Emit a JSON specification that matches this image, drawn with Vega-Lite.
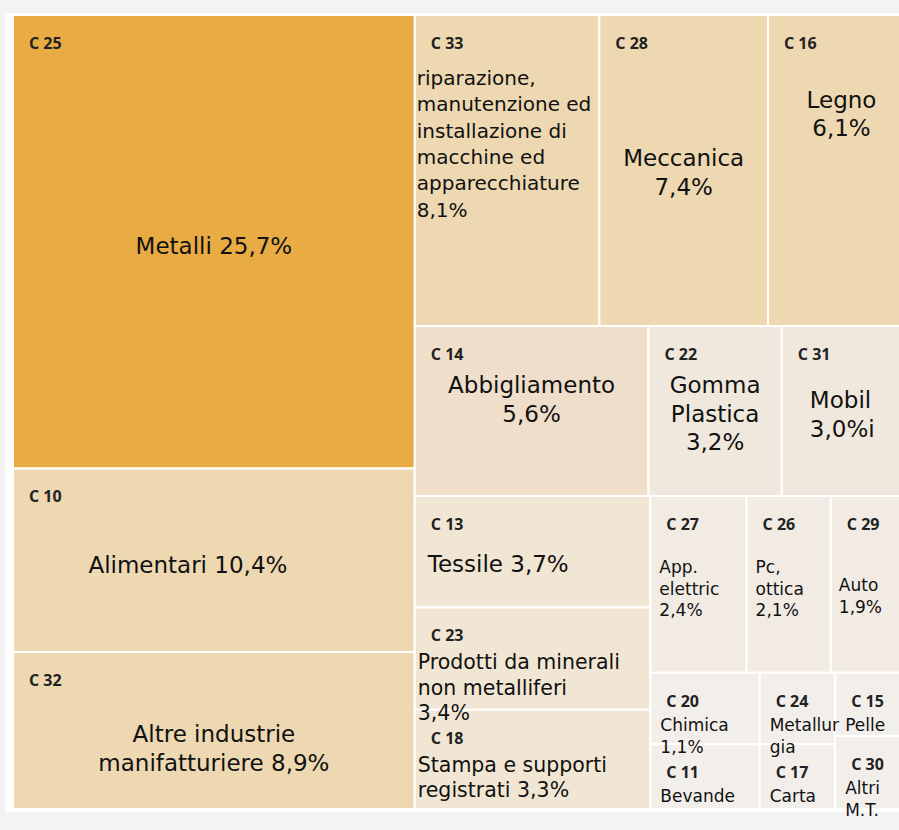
{
  "$schema": "https://vega.github.io/schema/vega-lite/v6.json",
  "width": 894,
  "height": 799,
  "autosize": {"type": "none"},
  "padding": {"left": 5, "top": 13, "right": 0, "bottom": 18},
  "background": "#f3f3f3",
  "config": {"view": {"fill": "#ffffff", "stroke": null}},
  "data": {
    "values": [
      {"code": "C 25", "name": "Metalli 25,7%", "value": 25.7, "p1": "L", "p2": "C25", "p3": "C25", "p4": "C25", "p5": "C25", "p6": "C25", "ord": 1},
      {"code": "C 10", "name": "Alimentari 10,4%", "value": 10.4, "p1": "L", "p2": "C10", "p3": "C10", "p4": "C10", "p5": "C10", "p6": "C10", "ord": 2},
      {"code": "C 32", "name": "Altre industrie\nmanifatturiere 8,9%", "value": 8.9, "p1": "L", "p2": "C32", "p3": "C32", "p4": "C32", "p5": "C32", "p6": "C32", "ord": 3},
      {"code": "C 33", "name": "riparazione,\nmanutenzione ed\ninstallazione di\nmacchine ed\napparecchiature\n8,1%", "value": 8.1, "p1": "R", "p2": "T", "p3": "C33", "p4": "C33", "p5": "C33", "p6": "C33", "ord": 4},
      {"code": "C 28", "name": "Meccanica\n7,4%", "value": 7.4, "p1": "R", "p2": "T", "p3": "C28", "p4": "C28", "p5": "C28", "p6": "C28", "ord": 5},
      {"code": "C 16", "name": "Legno\n6,1%", "value": 6.1, "p1": "R", "p2": "T", "p3": "C16", "p4": "C16", "p5": "C16", "p6": "C16", "ord": 6},
      {"code": "C 14", "name": "Abbigliamento\n5,6%", "value": 5.6, "p1": "R", "p2": "M", "p3": "C14", "p4": "C14", "p5": "C14", "p6": "C14", "ord": 7},
      {"code": "C 22", "name": "Gomma\nPlastica\n3,2%", "value": 3.2, "p1": "R", "p2": "M", "p3": "C22", "p4": "C22", "p5": "C22", "p6": "C22", "ord": 8},
      {"code": "C 31", "name": "Mobil\n3,0%i", "value": 3.0, "p1": "R", "p2": "M", "p3": "C31", "p4": "C31", "p5": "C31", "p6": "C31", "ord": 9},
      {"code": "C 13", "name": "Tessile 3,7%", "value": 3.7, "p1": "R", "p2": "B", "p3": "BL", "p4": "C13", "p5": "C13", "p6": "C13", "ord": 10},
      {"code": "C 23", "name": "Prodotti da minerali\nnon metalliferi\n3,4%", "value": 3.4, "p1": "R", "p2": "B", "p3": "BL", "p4": "C23", "p5": "C23", "p6": "C23", "ord": 11},
      {"code": "C 18", "name": "Stampa e supporti\nregistrati 3,3%", "value": 3.3, "p1": "R", "p2": "B", "p3": "BL", "p4": "C18", "p5": "C18", "p6": "C18", "ord": 12},
      {"code": "C 27", "name": "App.\nelettric\n2,4%", "value": 2.4, "p1": "R", "p2": "B", "p3": "BR", "p4": "BR1", "p5": "C27", "p6": "C27", "ord": 13},
      {"code": "C 26", "name": "Pc,\nottica\n2,1%", "value": 2.1, "p1": "R", "p2": "B", "p3": "BR", "p4": "BR1", "p5": "C26", "p6": "C26", "ord": 14},
      {"code": "C 29", "name": "Auto\n1,9%", "value": 1.9, "p1": "R", "p2": "B", "p3": "BR", "p4": "BR1", "p5": "C29", "p6": "C29", "ord": 15},
      {"code": "C 20", "name": "Chimica\n1,1%", "value": 1.1, "p1": "R", "p2": "B", "p3": "BR", "p4": "BR2", "p5": "K1", "p6": "C20", "ord": 16},
      {"code": "C 11", "name": "Bevande", "value": 1.0, "p1": "R", "p2": "B", "p3": "BR", "p4": "BR2", "p5": "K1", "p6": "C11", "ord": 17},
      {"code": "C 24", "name": "Metallur\ngia", "value": 0.76, "p1": "R", "p2": "B", "p3": "BR", "p4": "BR2", "p5": "K2", "p6": "C24", "ord": 18},
      {"code": "C 17", "name": "Carta", "value": 0.69, "p1": "R", "p2": "B", "p3": "BR", "p4": "BR2", "p5": "K2", "p6": "C17", "ord": 19},
      {"code": "C 15", "name": "Pelle", "value": 0.64, "p1": "R", "p2": "B", "p3": "BR", "p4": "BR2", "p5": "K3", "p6": "C15", "ord": 20},
      {"code": "C 30", "name": "Altri\nM.T.", "value": 0.74, "p1": "R", "p2": "B", "p3": "BR", "p4": "BR2", "p5": "K3", "p6": "C30", "ord": 21}
    ]
  },
  "transform": [
    {"window": [{"op": "sum", "field": "value", "as": "c1"}], "sort": [{"field": "ord"}], "frame": [null, 0]},
    {"joinaggregate": [{"op": "max", "field": "c1", "as": "e1"}, {"op": "sum", "field": "value", "as": "g1"}], "groupby": ["p1"]},
    {"joinaggregate": [{"op": "sum", "field": "value", "as": "t1"}]},
    {"calculate": "100*(datum.e1-datum.g1)/datum.t1", "as": "xa0"},
    {"calculate": "100*datum.e1/datum.t1", "as": "xa1"},

    {"window": [{"op": "sum", "field": "value", "as": "c2"}], "sort": [{"field": "ord"}], "groupby": ["p1"], "frame": [null, 0]},
    {"joinaggregate": [{"op": "max", "field": "c2", "as": "e2"}, {"op": "sum", "field": "value", "as": "g2"}], "groupby": ["p1", "p2"]},
    {"joinaggregate": [{"op": "sum", "field": "value", "as": "t2"}], "groupby": ["p1"]},
    {"calculate": "100*(datum.e2-datum.g2)/datum.t2", "as": "ya0"},
    {"calculate": "100*datum.e2/datum.t2", "as": "ya1"},

    {"window": [{"op": "sum", "field": "value", "as": "c3"}], "sort": [{"field": "ord"}], "groupby": ["p1", "p2"], "frame": [null, 0]},
    {"joinaggregate": [{"op": "max", "field": "c3", "as": "e3"}, {"op": "sum", "field": "value", "as": "g3"}], "groupby": ["p1", "p2", "p3"]},
    {"joinaggregate": [{"op": "sum", "field": "value", "as": "t3"}], "groupby": ["p1", "p2"]},
    {"calculate": "datum.xa0+(datum.xa1-datum.xa0)*(datum.e3-datum.g3)/datum.t3", "as": "xb0"},
    {"calculate": "datum.xa0+(datum.xa1-datum.xa0)*datum.e3/datum.t3", "as": "xb1"},

    {"window": [{"op": "sum", "field": "value", "as": "c4"}], "sort": [{"field": "ord"}], "groupby": ["p1", "p2", "p3"], "frame": [null, 0]},
    {"joinaggregate": [{"op": "max", "field": "c4", "as": "e4"}, {"op": "sum", "field": "value", "as": "g4"}], "groupby": ["p1", "p2", "p3", "p4"]},
    {"joinaggregate": [{"op": "sum", "field": "value", "as": "t4"}], "groupby": ["p1", "p2", "p3"]},
    {"calculate": "datum.ya0+(datum.ya1-datum.ya0)*(datum.e4-datum.g4)/datum.t4", "as": "yb0"},
    {"calculate": "datum.ya0+(datum.ya1-datum.ya0)*datum.e4/datum.t4", "as": "yb1"},

    {"window": [{"op": "sum", "field": "value", "as": "c5"}], "sort": [{"field": "ord"}], "groupby": ["p1", "p2", "p3", "p4"], "frame": [null, 0]},
    {"joinaggregate": [{"op": "max", "field": "c5", "as": "e5"}, {"op": "sum", "field": "value", "as": "g5"}], "groupby": ["p1", "p2", "p3", "p4", "p5"]},
    {"joinaggregate": [{"op": "sum", "field": "value", "as": "t5"}], "groupby": ["p1", "p2", "p3", "p4"]},
    {"calculate": "datum.xb0+(datum.xb1-datum.xb0)*(datum.e5-datum.g5)/datum.t5", "as": "xc0"},
    {"calculate": "datum.xb0+(datum.xb1-datum.xb0)*datum.e5/datum.t5", "as": "xc1"},

    {"window": [{"op": "sum", "field": "value", "as": "c6"}], "sort": [{"field": "ord"}], "groupby": ["p1", "p2", "p3", "p4", "p5"], "frame": [null, 0]},
    {"joinaggregate": [{"op": "max", "field": "c6", "as": "e6"}, {"op": "sum", "field": "value", "as": "g6"}], "groupby": ["p1", "p2", "p3", "p4", "p5", "p6"]},
    {"joinaggregate": [{"op": "sum", "field": "value", "as": "t6"}], "groupby": ["p1", "p2", "p3", "p4", "p5"]},
    {"calculate": "datum.yb0+(datum.yb1-datum.yb0)*(datum.e6-datum.g6)/datum.t6", "as": "yc0"},
    {"calculate": "datum.yb0+(datum.yb1-datum.yb0)*datum.e6/datum.t6", "as": "yc1"},

    {"calculate": "(datum.xc0+datum.xc1)/2", "as": "cx"},
    {"calculate": "(datum.yc0+datum.yc1)/2", "as": "cy"}
  ],
  "layer": [
    {
      "mark": {"type": "rect", "stroke": "#ffffff", "strokeWidth": 2},
      "encoding": {
        "x": {"field": "xc0", "type": "quantitative", "scale": {"domain": [-0.895, 99.105], "nice": false, "zero": false}, "axis": null},
        "x2": {"field": "xc1"},
        "y": {"field": "yc0", "type": "quantitative", "scale": {"domain": [-0.252, 100.378], "nice": false, "zero": false, "reverse": true}, "axis": null},
        "y2": {"field": "yc1"},
        "color": {
          "field": "value", "type": "quantitative", "legend": null,
          "scale": {"type": "threshold", "domain": [1.5, 2.9, 3.25, 4.5, 5.9, 20], "range": ["#f2efeb", "#f1ebe4", "#f0e8dc", "#f1e6d3", "#efdfca", "#eed8b2", "#e9ac45"]}
        }
      }
    },
    {
      "mark": {"type": "text", "align": "left", "baseline": "middle", "dx": 16, "dy": 29, "font": "Open Sans", "fontWeight": "bold", "fontSize": 16, "color": "#222222"},
      "encoding": {
        "x": {"field": "xc0", "type": "quantitative", "scale": {"domain": [-0.895, 99.105], "nice": false, "zero": false}, "axis": null},
        "y": {"field": "yc0", "type": "quantitative", "scale": {"domain": [-0.252, 100.378], "nice": false, "zero": false, "reverse": true}, "axis": null},
        "text": {"field": "code", "type": "nominal"}
      }
    },
    {
      "transform": [{"filter": {"field": "code", "oneOf": ["C 25", "C 32"]}}],
      "mark": {"type": "text", "align": "center", "baseline": "middle", "dy": 5, "font": "DejaVu Sans", "fontSize": 23, "lineHeight": 29, "lineBreak": "\n", "color": "#111111"},
      "encoding": {
        "x": {"field": "cx", "type": "quantitative", "scale": {"domain": [-0.895, 99.105], "nice": false, "zero": false}, "axis": null},
        "y": {"field": "cy", "type": "quantitative", "scale": {"domain": [-0.252, 100.378], "nice": false, "zero": false, "reverse": true}, "axis": null},
        "text": {"field": "name", "type": "nominal"}
      }
    },
    {
      "transform": [{"filter": {"field": "code", "oneOf": ["C 10"]}}],
      "mark": {"type": "text", "align": "center", "baseline": "middle", "dx": -26, "dy": 6, "font": "DejaVu Sans", "fontSize": 23, "color": "#111111"},
      "encoding": {
        "x": {"field": "cx", "type": "quantitative", "scale": {"domain": [-0.895, 99.105], "nice": false, "zero": false}, "axis": null},
        "y": {"field": "cy", "type": "quantitative", "scale": {"domain": [-0.252, 100.378], "nice": false, "zero": false, "reverse": true}, "axis": null},
        "text": {"field": "name", "type": "nominal"}
      }
    },
    {
      "transform": [{"filter": {"field": "code", "oneOf": ["C 28"]}}],
      "mark": {"type": "text", "align": "center", "baseline": "middle", "dy": -12, "font": "DejaVu Sans", "fontSize": 23, "lineHeight": 29, "lineBreak": "\n", "color": "#111111"},
      "encoding": {
        "x": {"field": "cx", "type": "quantitative", "scale": {"domain": [-0.895, 99.105], "nice": false, "zero": false}, "axis": null},
        "y": {"field": "cy", "type": "quantitative", "scale": {"domain": [-0.252, 100.378], "nice": false, "zero": false, "reverse": true}, "axis": null},
        "text": {"field": "name", "type": "nominal"}
      }
    },
    {
      "transform": [{"filter": {"field": "code", "oneOf": ["C 31"]}}],
      "mark": {"type": "text", "align": "left", "baseline": "middle", "dx": 28, "dy": -10, "font": "DejaVu Sans", "fontSize": 23, "lineHeight": 29, "lineBreak": "\n", "color": "#111111"},
      "encoding": {
        "x": {"field": "xc0", "type": "quantitative", "scale": {"domain": [-0.895, 99.105], "nice": false, "zero": false}, "axis": null},
        "y": {"field": "cy", "type": "quantitative", "scale": {"domain": [-0.252, 100.378], "nice": false, "zero": false, "reverse": true}, "axis": null},
        "text": {"field": "name", "type": "nominal"}
      }
    },
    {
      "transform": [{"filter": {"field": "code", "oneOf": ["C 14", "C 22"]}}],
      "mark": {"type": "text", "align": "center", "baseline": "middle", "dy": -25, "font": "DejaVu Sans", "fontSize": 23, "lineHeight": 28.5, "lineBreak": "\n", "color": "#111111"},
      "encoding": {
        "x": {"field": "cx", "type": "quantitative", "scale": {"domain": [-0.895, 99.105], "nice": false, "zero": false}, "axis": null},
        "y": {"field": "cy", "type": "quantitative", "scale": {"domain": [-0.252, 100.378], "nice": false, "zero": false, "reverse": true}, "axis": null},
        "text": {"field": "name", "type": "nominal"}
      }
    },
    {
      "transform": [{"filter": {"field": "code", "oneOf": ["C 16"]}}],
      "mark": {"type": "text", "align": "center", "baseline": "top", "dx": 4, "dy": 75, "font": "DejaVu Sans", "fontSize": 23, "lineHeight": 28, "lineBreak": "\n", "color": "#111111"},
      "encoding": {
        "x": {"field": "cx", "type": "quantitative", "scale": {"domain": [-0.895, 99.105], "nice": false, "zero": false}, "axis": null},
        "y": {"field": "yc0", "type": "quantitative", "scale": {"domain": [-0.252, 100.378], "nice": false, "zero": false, "reverse": true}, "axis": null},
        "text": {"field": "name", "type": "nominal"}
      }
    },
    {
      "transform": [{"filter": {"field": "code", "oneOf": ["C 33"]}}],
      "mark": {"type": "text", "align": "left", "baseline": "top", "dx": 2, "dy": 54, "font": "DejaVu Sans", "fontSize": 20, "lineHeight": 26.3, "lineBreak": "\n", "color": "#111111"},
      "encoding": {
        "x": {"field": "xc0", "type": "quantitative", "scale": {"domain": [-0.895, 99.105], "nice": false, "zero": false}, "axis": null},
        "y": {"field": "yc0", "type": "quantitative", "scale": {"domain": [-0.252, 100.378], "nice": false, "zero": false, "reverse": true}, "axis": null},
        "text": {"field": "name", "type": "nominal"}
      }
    },
    {
      "transform": [{"filter": {"field": "code", "oneOf": ["C 23", "C 18"]}}],
      "mark": {"type": "text", "align": "left", "baseline": "top", "dx": 3, "dy": 46, "font": "DejaVu Sans", "fontSize": 20.5, "lineHeight": 25.5, "lineBreak": "\n", "color": "#111111"},
      "encoding": {
        "x": {"field": "xc0", "type": "quantitative", "scale": {"domain": [-0.895, 99.105], "nice": false, "zero": false}, "axis": null},
        "y": {"field": "yc0", "type": "quantitative", "scale": {"domain": [-0.252, 100.378], "nice": false, "zero": false, "reverse": true}, "axis": null},
        "text": {"field": "name", "type": "nominal"}
      }
    },
    {
      "transform": [{"filter": {"field": "code", "oneOf": ["C 13"]}}],
      "mark": {"type": "text", "align": "left", "baseline": "middle", "dx": 13, "dy": 13, "font": "DejaVu Sans", "fontSize": 23, "color": "#111111"},
      "encoding": {
        "x": {"field": "xc0", "type": "quantitative", "scale": {"domain": [-0.895, 99.105], "nice": false, "zero": false}, "axis": null},
        "y": {"field": "cy", "type": "quantitative", "scale": {"domain": [-0.252, 100.378], "nice": false, "zero": false, "reverse": true}, "axis": null},
        "text": {"field": "name", "type": "nominal"}
      }
    },
    {
      "transform": [{"filter": {"field": "code", "oneOf": ["C 27", "C 26"]}}],
      "mark": {"type": "text", "align": "left", "baseline": "middle", "dx": 9, "dy": -16, "font": "DejaVu Sans", "fontSize": 17, "lineHeight": 21.5, "lineBreak": "\n", "color": "#111111"},
      "encoding": {
        "x": {"field": "xc0", "type": "quantitative", "scale": {"domain": [-0.895, 99.105], "nice": false, "zero": false}, "axis": null},
        "y": {"field": "cy", "type": "quantitative", "scale": {"domain": [-0.252, 100.378], "nice": false, "zero": false, "reverse": true}, "axis": null},
        "text": {"field": "name", "type": "nominal"}
      }
    },
    {
      "transform": [{"filter": {"field": "code", "oneOf": ["C 29"]}}],
      "mark": {"type": "text", "align": "left", "baseline": "middle", "dx": 8, "dy": 2, "font": "DejaVu Sans", "fontSize": 17, "lineHeight": 21.5, "lineBreak": "\n", "color": "#111111"},
      "encoding": {
        "x": {"field": "xc0", "type": "quantitative", "scale": {"domain": [-0.895, 99.105], "nice": false, "zero": false}, "axis": null},
        "y": {"field": "cy", "type": "quantitative", "scale": {"domain": [-0.252, 100.378], "nice": false, "zero": false, "reverse": true}, "axis": null},
        "text": {"field": "name", "type": "nominal"}
      }
    },
    {
      "transform": [{"filter": {"field": "code", "oneOf": ["C 20", "C 11", "C 24", "C 17", "C 15", "C 30"]}}],
      "mark": {"type": "text", "align": "left", "baseline": "top", "dx": 10, "dy": 45, "font": "DejaVu Sans", "fontSize": 17, "lineHeight": 22, "lineBreak": "\n", "color": "#111111"},
      "encoding": {
        "x": {"field": "xc0", "type": "quantitative", "scale": {"domain": [-0.895, 99.105], "nice": false, "zero": false}, "axis": null},
        "y": {"field": "yc0", "type": "quantitative", "scale": {"domain": [-0.252, 100.378], "nice": false, "zero": false, "reverse": true}, "axis": null},
        "text": {"field": "name", "type": "nominal"}
      }
    }
  ]
}
